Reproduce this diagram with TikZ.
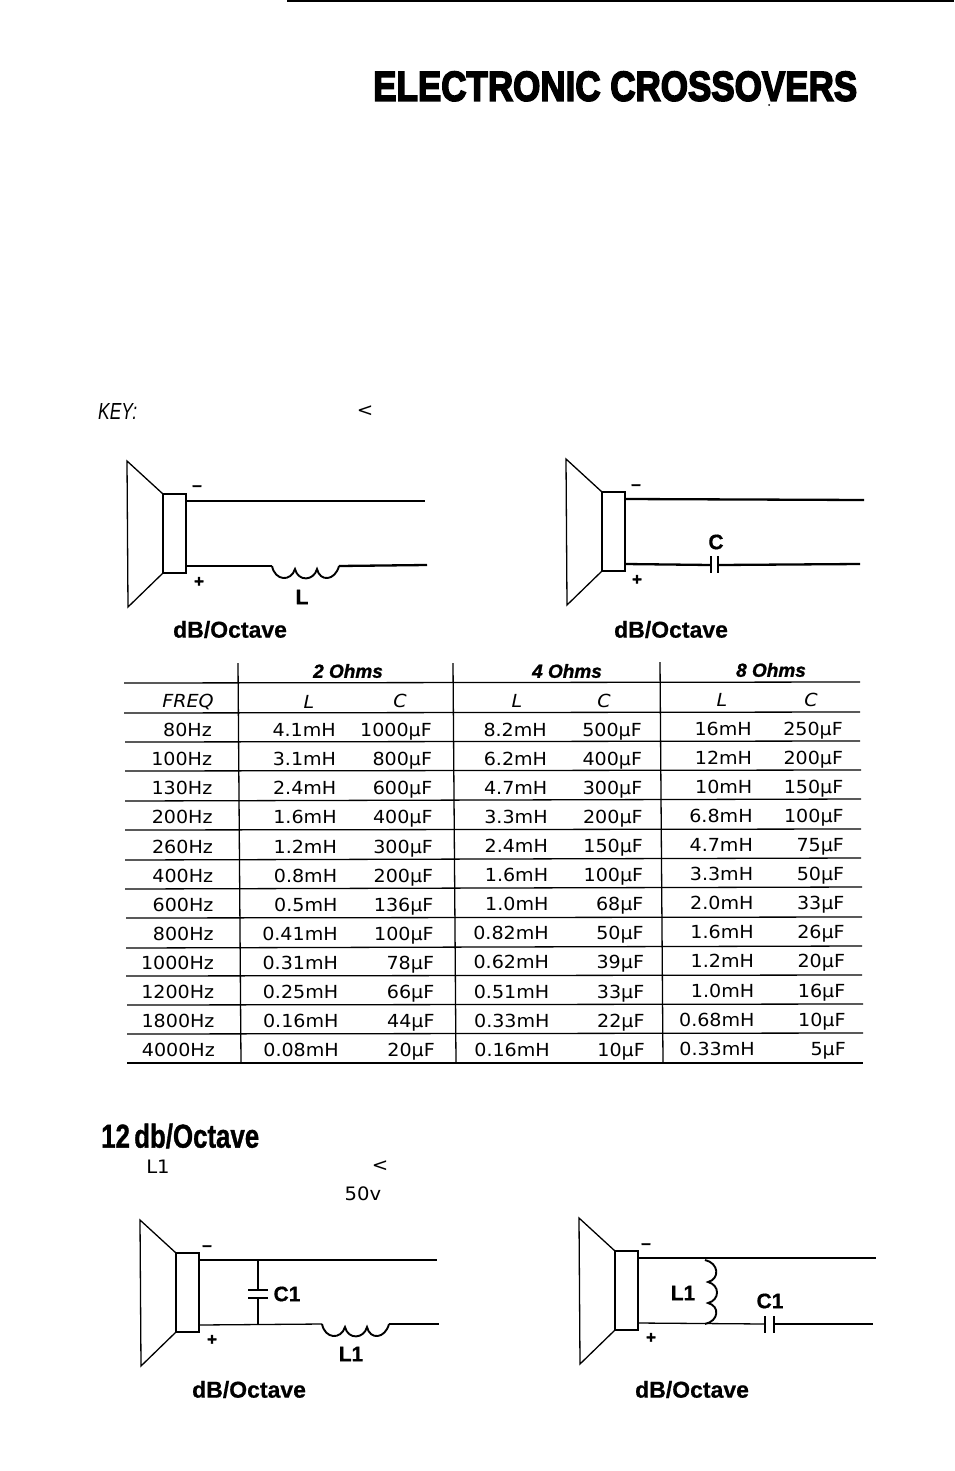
\documentclass[tikz,border=0pt]{standalone}
\usepackage{fontspec}
\setmainfont{Liberation Sans}
\newfontfamily\tblfont[FakeStretch=1.06]{DejaVu Sans}
\newfontfamily\headfont[FakeBold=1.2]{Liberation Sans}
\newfontfamily\labelfont[FakeBold=0.6]{Liberation Sans}
\newfontfamily\titlefont[FakeBold=4.5,FakeStretch=1.15]{Liberation Sans}
\tikzset{
  x=1pt,y=-1pt,
  thinwire/.style={line width=1.3pt,black},
  wire/.style={line width=2.3pt,black},
  cell/.style={font=\tblfont\fontsize{18}{20}\selectfont,anchor=mid east,inner sep=0pt},
  hdr/.style={font=\tblfont\itshape\fontsize{18}{20}\selectfont,inner sep=0pt},
  ohm/.style={font=\headfont\bfseries\itshape\fontsize{19}{22}\selectfont,inner sep=0pt},
  oct/.style={font=\labelfont\bfseries\fontsize{23}{26}\selectfont,inner sep=0pt,anchor=mid west},
  part/.style={font=\labelfont\bfseries\fontsize{21}{24}\selectfont,inner sep=0pt},
  pol/.style={font=\headfont\bfseries\fontsize{17}{18}\selectfont,inner sep=0pt},
  plain/.style={font=\tblfont\fontsize{18.5}{20}\selectfont,inner sep=0pt},
  rule/.style={line width=1.3pt,black},
  speaker/.pic={
    \draw[line width=1.3pt,line join=miter] (0,0) -- (36,33) -- (36,112) -- (1,146) -- cycle;
    \draw[line width=1.7pt] (36,33) rectangle (59,112);
    \coordinate (-top) at (59,40);
    \coordinate (-bot) at (59,105);
  },
  hcoil/.pic={
    \draw[line width=1.9pt] (0,0) .. controls (3,15) and (19,16) .. (23,3)
      .. controls (26,16) and (42,15) .. (45,3)
      .. controls (48,16) and (63,15) .. (67,0);
    \coordinate (-in) at (0,0);
    \coordinate (-out) at (67,0);
  },
  vcoil/.pic={
    \draw[line width=1.9pt] (0,0) .. controls (14,3) and (15,19) .. (3,22)
      .. controls (15,25) and (15,40) .. (3,43)
      .. controls (15,46) and (14,61) .. (0,64);
    \coordinate (-in) at (0,0);
    \coordinate (-out) at (0,64);
  },
}
\begin{document}
\begin{tikzpicture}
\useasboundingbox (0,0) rectangle (954,1471);
\fill[white] (0,0) rectangle (954,1471);
% page rule and title
\coordinate (pr1) at (287,1); \coordinate (pr2) at (954,1);
\draw[line width=1.2pt] (pr1) -- (pr2);
\node[inner sep=0pt,anchor=mid west] (title) at (373,98) {\resizebox{484pt}{29pt}{\titlefont\bfseries ELECTRONIC CROSSOVERS}};
\fill (769,105) circle (1pt);
% key line
\node[inner sep=0pt,anchor=mid west] (key) at (98,417) {\resizebox{39pt}{16pt}{\itshape KEY:}};
\node[plain] (keylt) at (365,411) {<};

% --- 6 dB low-pass
\pic (s1) at (127,461) {speaker};
\coordinate (s1t) at (425,501);
\draw[wire] (s1-top) -- (s1t);
\pic (c1) at (272,566) {hcoil};
\coordinate (s1b) at (427,565);
\draw[wire] (s1-bot) -- (c1-in);
\draw[wire] (c1-out) -- (s1b);
\node[pol] (s1m) at (197,488) {–};
\node[pol] (s1p) at (199,582) {+};
\node[part] (s1L) at (302,597) {L};
\node[oct] (o1) at (173,635) {dB/Octave};

% --- 6 dB high-pass
\pic (s2) at (566,459) {speaker};
\coordinate (s2t) at (864,500);
\draw[wire] (s2-top) -- (s2t);
\coordinate (k2a) at (711,565); \coordinate (k2b) at (719,565); \coordinate (s2b) at (860,564);
\draw[wire] (s2-bot) -- (k2a);
\draw[wire] (k2b) -- (s2b);
\draw[line width=1.8pt] (711,556) -- (711,573);
\draw[line width=2.2pt] (718,556) -- (718,573);
\node[pol] (s2m) at (636,487) {–};
\node[pol] (s2p) at (637,580) {+};
\node[part] (s2C) at (716,542) {C};
\node[oct] (o2) at (614,635) {dB/Octave};

% --- table
\draw[rule] (124,683) -- (860,682);
\draw[rule] (124,713) -- (860,712);
\foreach \yl/\yr/\xl/\xr in {742/741/125/860,771/770/125/861,801/799/125/861,830/829/125/861,860/858/125/861,889/887/125/862,918/917/126/862,948/946/126/862,976/975/126/862,1005/1004/127/863,1034/1033/127/863,1063/1063/127/863}
  \draw[rule] (\xl,\yl) -- (\xr,\yr);
\draw[rule] (238,663) -- (241,1063);
\draw[rule] (453,663) -- (456,1063);
\draw[rule] (660,662) -- (663,1062);

\node[ohm] (h2) at (348,671) {2 Ohms};
\node[ohm] (h4) at (567,671) {4 Ohms};
\node[ohm] (h8) at (771,670) {8 Ohms};
\node[hdr] (hf) at (188,702) {FREQ};
\node[hdr] (hl2) at (309,702) {L};
\node[hdr] (hc2) at (400,701) {C};
\node[hdr] (hl4) at (517,701) {L};
\node[hdr] (hc4) at (604,701) {C};
\node[hdr] (hl8) at (722,700) {L};
\node[hdr] (hc8) at (811,700) {C};

\foreach \fr/\la/\ca/\lb/\cb/\lc/\cc [count=\i from 0] in {
 80Hz/4.1mH/1000μF/8.2mH/500μF/16mH/250μF,
 100Hz/3.1mH/800μF/6.2mH/400μF/12mH/200μF,
 130Hz/2.4mH/600μF/4.7mH/300μF/10mH/150μF,
 200Hz/1.6mH/400μF/3.3mH/200μF/6.8mH/100μF,
 260Hz/1.2mH/300μF/2.4mH/150μF/4.7mH/75μF,
 400Hz/0.8mH/200μF/1.6mH/100μF/3.3mH/50μF,
 600Hz/0.5mH/136μF/1.0mH/68μF/2.0mH/33μF,
 800Hz/0.41mH/100μF/0.82mH/50μF/1.6mH/26μF,
 1000Hz/0.31mH/78μF/0.62mH/39μF/1.2mH/20μF,
 1200Hz/0.25mH/66μF/0.51mH/33μF/1.0mH/16μF,
 1800Hz/0.16mH/44μF/0.33mH/22μF/0.68mH/10μF,
 4000Hz/0.08mH/20μF/0.16mH/10μF/0.33mH/5μF}{
  \pgfmathsetmacro{\dx}{\i*3/11}
  \pgfmathsetmacro{\yy}{734+\i*29.1}
  \node[cell] (f\i)  at (212+\dx,\yy)   {\fr};
  \node[cell] (la\i) at (336+\dx,\yy)   {\la};
  \node[cell] (ca\i) at (432+\dx,\yy)   {\ca};
  \node[cell] (lb\i) at (547+\dx,\yy-.5){\lb};
  \node[cell] (cb\i) at (642+\dx,\yy-.5){\cb};
  \node[cell] (lc\i) at (752+\dx,\yy-1.5){\lc};
  \node[cell] (cc\i) at (843+\dx,\yy-1.5){\cc};
}

% --- 12 dB section
\node[inner sep=0pt,anchor=mid west] (h12) at (101,1145) {\resizebox{158pt}{24pt}{\headfont\bfseries 12\,db/Octave}};
\node[plain] (l1txt) at (158,1167) {L1};
\node[plain] (lt2) at (380,1166) {<};
\node[plain] (v50) at (363,1194) {50v};

% --- 12 dB low-pass
\pic (s3) at (140,1220) {speaker};
\coordinate (s3t) at (437,1260); \coordinate (s3b) at (439,1324);
\coordinate (j3t) at (258,1260); \coordinate (j3b) at (258,1324);
\coordinate (p3a) at (258,1290); \coordinate (p3b) at (258,1298);
\draw[wire] (s3-top) -- (s3t);
\pic (c3) at (322,1324) {hcoil};
\draw[thinwire] (s3-bot) -- (c3-in);
\draw[thinwire] (c3-out) -- (s3b);
\draw[thinwire] (j3t) -- (p3a);
\draw[thinwire] (p3b) -- (j3b);
\draw[line width=2.2pt] (248,1290) -- (268,1290);
\draw[line width=2.2pt] (248,1298) -- (268,1298);
\node[pol] (s3m) at (207,1248) {–};
\node[pol] (s3p) at (212,1340) {+};
\node[part] (s3C) at (287,1294) {C1};
\node[part] (s3L) at (351,1354) {L1};
\node[oct] (o3) at (192,1395) {dB/Octave};

% --- 12 dB high-pass
\pic (s4) at (579,1218) {speaker};
\coordinate (s4t) at (876,1258); \coordinate (s4b) at (873,1324);
\coordinate (k4a) at (765,1324); \coordinate (k4b) at (775,1324);
\draw[wire] (s4-top) -- (s4t);
\pic (c4) at (705,1260) {vcoil};
\draw[thinwire] (s4-bot) -- (k4a);
\draw[thinwire] (k4b) -- (s4b);
\draw[line width=1.8pt] (765,1316) -- (765,1333);
\draw[line width=2pt] (774,1316) -- (774,1333);
\node[pol] (s4m) at (646,1246) {–};
\node[pol] (s4p) at (651,1338) {+};
\node[part] (s4L) at (683,1293) {L1};
\node[part] (s4C) at (770,1301) {C1};
\node[oct] (o4) at (635,1395) {dB/Octave};
\end{tikzpicture}
\end{document}
